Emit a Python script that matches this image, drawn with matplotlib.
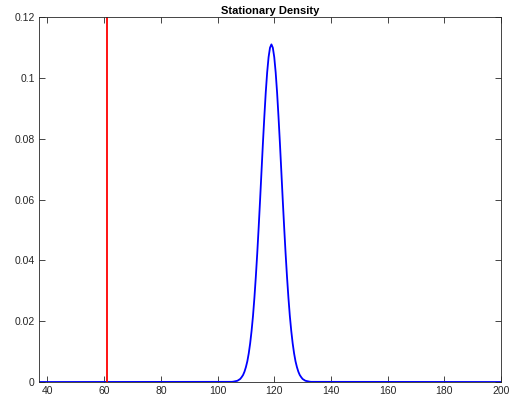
import numpy as np
import matplotlib.pyplot as plt
from matplotlib.ticker import FormatStrFormatter

plt.rcParams['font.family'] = ['Liberation Sans', 'DejaVu Sans']

# stationary density, half-step grid around the peak
tail = [0.00005, 0.0001, 0.0002, 0.0003, 0.0004, 0.0007, 0.0010, 0.0016,
        0.0023, 0.0034, 0.0049, 0.0068, 0.0094, 0.0127, 0.0168, 0.0217,
        0.0277, 0.0346, 0.0423, 0.0508, 0.0598, 0.0692, 0.0785, 0.0872,
        0.0952, 0.1018, 0.1068, 0.1099]
peak = 0.1110
peak_state = 119
threshold = 61

peak_density = tail + [peak] + tail[::-1]
half_steps = (len(peak_density) - 1) // 2
peak_states = peak_state + 0.5 * np.arange(-half_steps, half_steps + 1)

# zero density elsewhere on the state range
states = np.concatenate([[37], peak_states, [200]])
density = np.concatenate([[0.0], peak_density, [0.0]])

fig = plt.figure(figsize=(5.09, 4.05), dpi=100)
ax = fig.add_axes([0.0766, 0.0568, 0.9077, 0.9012])

ax.plot(states, density, color='#0000ff', linewidth=1.3)
ax.axvline(threshold, color='#ff0000', linewidth=1.3)

ax.set_xlim(37, 200)
ax.set_ylim(0, 0.12)
ax.set_xticks(np.arange(40, 201, 20))
ax.set_yticks(np.arange(0, 0.1201, 0.02))
ax.yaxis.set_major_formatter(FormatStrFormatter('%g'))
ax.tick_params(direction='in', top=True, right=True, length=4, width=0.6,
               labelsize=7.5, colors='#262626', pad=3)
for s in ax.spines.values():
    s.set_color('#262626')
    s.set_linewidth(0.6)
ax.set_title('Stationary Density', fontsize=8, fontweight='bold', pad=2)

fig.savefig('out.png', dpi=100)
